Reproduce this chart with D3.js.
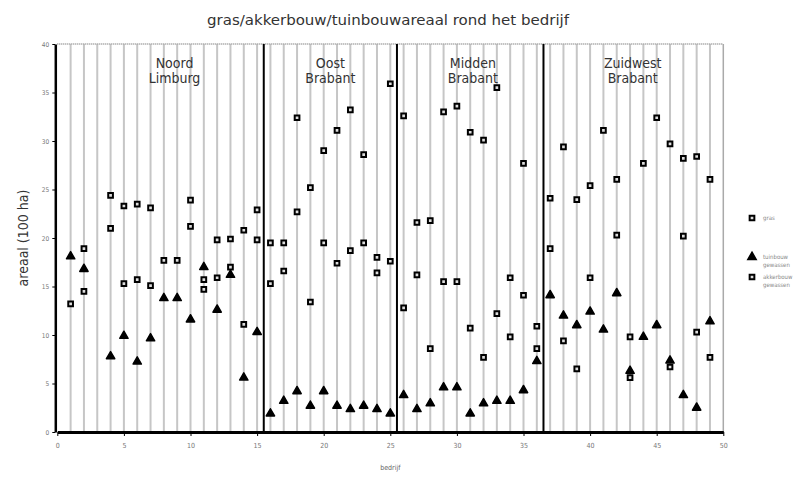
<!DOCTYPE html>
<html><head><meta charset="utf-8">
<script src="https://cdn.jsdelivr.net/npm/d3@7"></script>
<style>body{margin:0;background:#fff}svg{display:block}</style>
</head><body>
<script>
const bedrijf = d3.range(1, 50);
const gras = [13.2,18.9,null,24.4,23.3,23.5,23.1,17.7,17.7,23.9,15.7,19.8,19.9,20.8,22.9,19.5,19.5,32.4,25.2,29.0,31.1,33.2,28.6,18.0,35.9,32.6,21.6,21.8,33.0,33.6,30.9,30.1,35.5,15.9,27.7,10.9,24.1,29.4,23.95,25.4,31.1,26.05,9.8,27.7,32.4,29.7,28.2,28.4,26.05];
const akkerbouw = [null,14.5,null,21.0,15.3,15.7,15.1,null,null,21.2,14.7,15.9,17.0,11.1,19.8,15.3,16.6,22.7,13.4,19.5,17.4,18.7,19.5,16.4,17.6,12.8,16.2,8.6,15.5,15.5,10.7,7.7,12.2,9.8,14.1,8.6,18.9,9.4,6.5,15.9,null,20.3,5.6,null,null,6.7,20.2,10.3,7.7];
const tuinbouw = [18.1,16.8,null,7.8,9.9,7.25,9.65,13.8,13.8,11.6,17.0,12.6,16.2,5.6,10.3,1.9,3.2,4.2,2.7,4.2,2.7,2.35,2.7,2.35,1.9,3.8,2.35,2.95,4.6,4.6,1.9,2.95,3.2,3.2,4.3,7.3,14.1,12.0,11.0,12.4,10.55,14.3,6.3,9.8,11.0,7.35,3.8,2.5,11.4];
const regions = [["Noord","Limburg"],["Oost","Brabant"],["Midden","Brabant"],["Zuidwest","Brabant"]];
const regionCenters = [8.8, 20.5, 31.2, 43.2];
const regionBounds = [15.5, 25.5, 36.5];
const xTicks = [0,5,10,15,20,25,30,35,40,45,50];
const yTicks = [0,5,10,15,20,25,30,35,40];
const legendItems = [["gras"],["tuinbouw","gewassen"],["akkerbouw","gewassen"]];
const titleText = "gras/akkerbouw/tuinbouwareaal rond het bedrijf";

const W = 802, H = 477;
const svg = d3.select("body").append("svg").attr("width", W).attr("height", H);
const x = d3.scaleLinear().domain([0, 50]).range([57.3, 723.3]);
const y = d3.scaleLinear().domain([0, 40]).range([432, 44]);

// vertical gridlines
svg.append("g").selectAll("line").data(bedrijf).join("line")
  .attr("x1", d => x(d)).attr("x2", d => x(d)).attr("y1", y(40)).attr("y2", y(0))
  .attr("stroke", "#c6c6c6").attr("stroke-width", 2);
// top border dotted
svg.append("line").attr("x1", x(0)).attr("x2", x(50)).attr("y1", y(40)).attr("y2", y(40))
  .attr("stroke", "#aaa").attr("stroke-width", 2).attr("stroke-dasharray", "1,1");
svg.append("line").attr("x1", x(50)).attr("x2", x(50)).attr("y1", y(40)).attr("y2", y(0))
  .attr("stroke", "#aaa").attr("stroke-width", 1.5);
// region bounds
svg.append("g").selectAll("line").data(regionBounds).join("line")
  .attr("x1", d => x(d)).attr("x2", d => x(d)).attr("y1", y(40)).attr("y2", y(0))
  .attr("stroke", "#000").attr("stroke-width", 2);

// axes
const xAxis = svg.append("g").attr("transform", `translate(0,${y(0)})`)
  .call(d3.axisBottom(x).tickValues(xTicks).tickSize(4).tickSizeOuter(0));
xAxis.select(".domain").attr("stroke", "#000").attr("stroke-width", 3);
xAxis.selectAll("text").attr("font-family", "DejaVu Sans Condensed").attr("font-size", 7).attr("fill", "#777").attr("dy", "1.3em");
const yAxis = svg.append("g").attr("transform", `translate(${x(0) - 2},0)`)
  .call(d3.axisLeft(y).tickValues(yTicks).tickSize(3).tickSizeOuter(0));
yAxis.select(".domain").attr("stroke", "#000").attr("stroke-width", 2.5);
yAxis.selectAll("text").attr("font-family", "DejaVu Sans Condensed").attr("font-size", 6.5).attr("fill", "#777");

// region labels
regions.forEach((r, i) => {
  const t = svg.append("text").attr("x", x(regionCenters[i])).attr("y", 68)
    .attr("text-anchor", "middle").attr("font-family", "DejaVu Sans Condensed")
    .attr("font-size", 14).attr("fill", "#333");
  r.forEach((line, j) => t.append("tspan").attr("x", x(regionCenters[i])).attr("dy", j ? 15 : 0).text(line));
});

// markers
const sq = d3.symbol().type(d3.symbolSquare).size(22);
const tri = d3.symbol().type(d3.symbolTriangle).size(30);
function squares(arr) {
  svg.append("g").selectAll("path").data(bedrijf.map((b, i) => [b, arr[i]]).filter(d => d[1] != null)).join("path")
    .attr("d", sq).attr("transform", d => `translate(${x(d[0])},${y(d[1])})`)
    .attr("fill", "#ddd").attr("stroke", "#000").attr("stroke-width", 2);
}
squares(gras);
squares(akkerbouw);
svg.append("g").selectAll("path").data(bedrijf.map((b, i) => [b, tuinbouw[i]]).filter(d => d[1] != null)).join("path")
  .attr("d", tri).attr("transform", d => `translate(${x(d[0])},${y(d[1])})`)
  .attr("fill", "#000").attr("stroke", "#000").attr("stroke-width", 1.5).attr("stroke-linejoin", "round");

// title
svg.append("text").attr("x", 388).attr("y", 25).attr("text-anchor", "middle")
  .attr("font-family", "DejaVu Sans Condensed").attr("font-size", 14).attr("fill", "#333")
  .attr("textLength", 362).attr("lengthAdjust", "spacingAndGlyphs").text(titleText);
// axis titles
svg.append("text").attr("transform", "translate(28,238) rotate(-90)").attr("text-anchor", "middle")
  .attr("font-family", "DejaVu Sans Condensed").attr("font-size", 14).attr("fill", "#333").text("areaal (100 ha)");
svg.append("text").attr("x", x(25)).attr("y", 470).attr("text-anchor", "middle")
  .attr("font-family", "DejaVu Sans Condensed").attr("font-size", 7).attr("fill", "#666").text("bedrijf");

// legend
const lg = svg.append("g");
const ly = [218, 257, 277];
legendItems.forEach((it, i) => {
  lg.append("path").attr("d", i === 1 ? tri : sq).attr("transform", `translate(752,${ly[i]})`)
    .attr("fill", i === 1 ? "#000" : "#ddd").attr("stroke", "#000").attr("stroke-width", i === 1 ? 1.5 : 2);
  const t = lg.append("text").attr("x", 763).attr("y", ly[i] + 2).attr("font-family", "DejaVu Sans Condensed")
    .attr("font-size", 6).attr("fill", "#888");
  it.forEach((l, j) => t.append("tspan").attr("x", 763).attr("dy", j ? 8 : 0).text(l));
});
</script>
</body></html>
